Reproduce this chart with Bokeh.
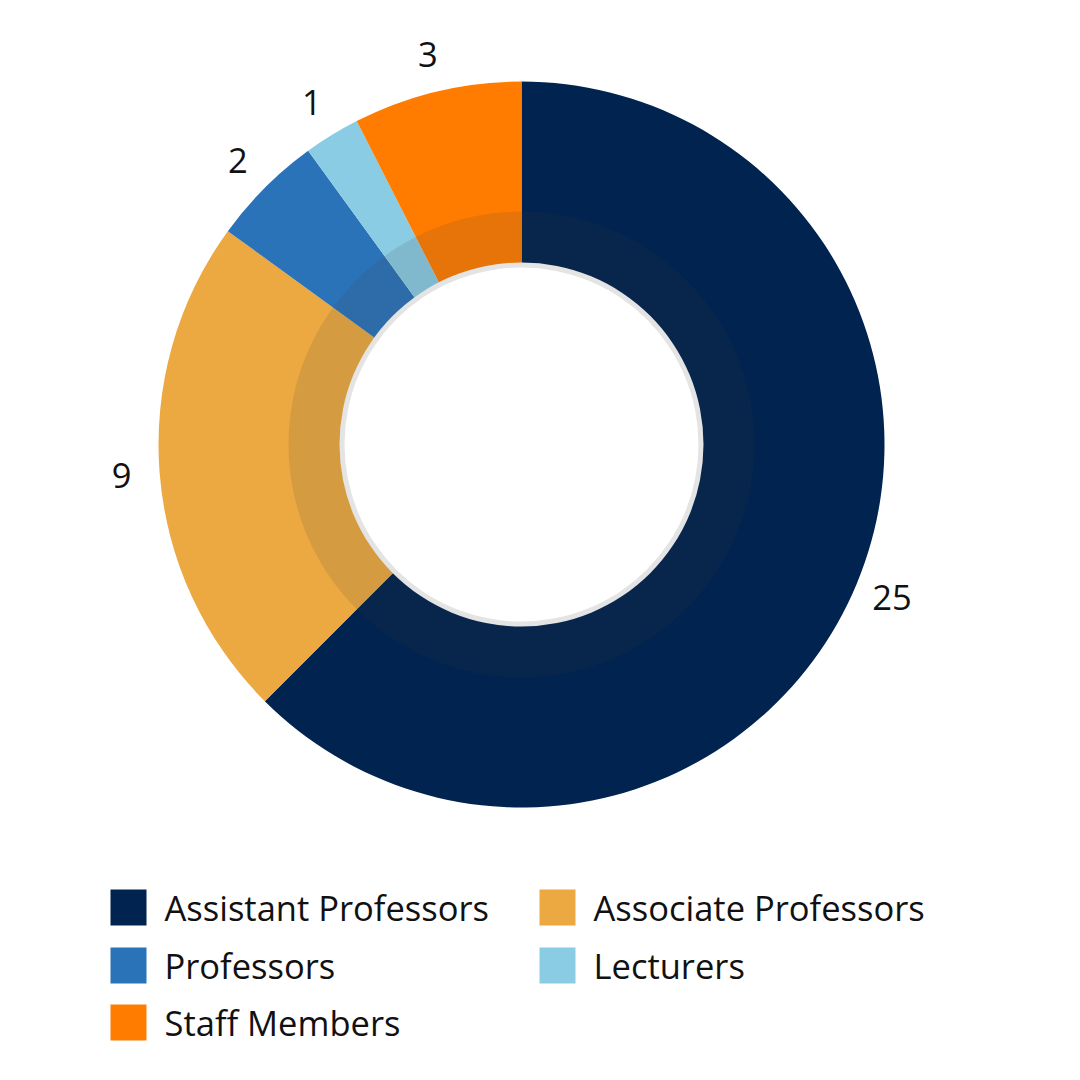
import numpy as np
from bokeh.plotting import figure
from bokeh.models import Range1d, ColumnDataSource
from bokeh.core.properties import value
from bokeh.embed import file_html
from bokeh.resources import INLINE

categories = ["Assistant Professors", "Associate Professors", "Professors", "Lecturers", "Staff Members"]
counts = [25, 9, 2, 1, 3]
colors = ["#01234f", "#eca942", "#2b73b8", "#8acce4", "#ff7c00"]
labels = [str(v) for v in counts]

W = H = 1080
CX, CY = 521, H - 444
R_OUT, R_IN = 363, 180
R_SHADE = 233
R_LABEL = 401
FONT = "Open Sans"
FSIZE = "34.5px"

p = figure(width=W, height=H, output_backend="svg", toolbar_location=None,
           x_range=Range1d(0, W), y_range=Range1d(0, H), min_border=0,
           outline_line_color=None, background_fill_color="white")
p.axis.visible = False
p.grid.visible = False

vals = np.array(counts, dtype=float)
frac = vals / vals.sum()
cum = np.concatenate([[0], np.cumsum(frac)])
theta0 = cum[:-1] * 2 * np.pi  # clockwise from top
theta1 = cum[1:] * 2 * np.pi
start = np.pi / 2 - theta0
end = np.pi / 2 - theta1
mid = (theta0 + theta1) / 2

src = ColumnDataSource(dict(x=[CX] * len(counts), y=[CY] * len(counts),
                            start=start, end=end, color=colors))
p.annular_wedge(x="x", y="y", inner_radius=R_IN, outer_radius=R_OUT,
                start_angle="start", end_angle="end", direction="clock",
                fill_color="color", line_color=None, source=src)

# darker inner band
p.annulus(x=CX, y=CY, inner_radius=R_IN, outer_radius=R_SHADE,
          fill_color="#3c3c3c", fill_alpha=0.13, line_color=None)
# light gray rim around hole
p.annulus(x=CX, y=CY, inner_radius=R_IN - 3, outer_radius=R_IN + 2,
          fill_color="#e4e4e4", line_color=None)

lx = CX + R_LABEL * np.sin(mid)
ly = CY + R_LABEL * np.cos(mid)
p.text(x=lx, y=ly, text=labels, text_align="center", text_baseline="middle",
       text_font=value(FONT), text_font_size=FSIZE, text_color="#111111")

# legend
leg_x = [128, 557, 128, 557, 128]
leg_y = [H - 907, H - 907, H - 965, H - 965, H - 1022]
p.rect(x=leg_x, y=leg_y, width=36, height=36, fill_color=colors, line_color=None)
p.text(x=[x + 36 for x in leg_x], y=leg_y, text=categories, text_align="left",
       text_baseline="middle", text_font=value(FONT), text_font_size=FSIZE,
       text_color="#111111")

open("out.html", "w").write(file_html(p, INLINE))
